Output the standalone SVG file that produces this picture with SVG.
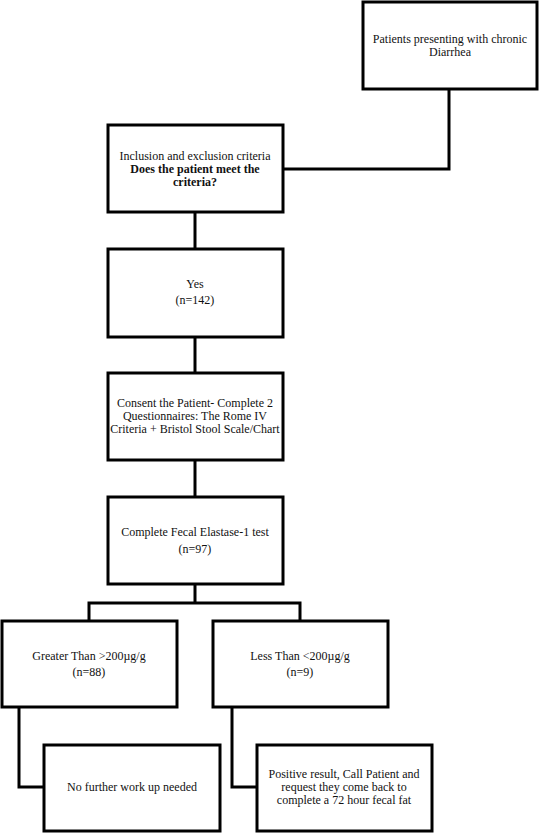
<svg xmlns="http://www.w3.org/2000/svg" width="539" height="835" viewBox="0 0 539 835">
<style>
rect.box{fill:#fff;stroke:#000;stroke-width:3}
.c path{fill:none;stroke:#000;stroke-width:3}
text{font-family:"Liberation Serif","Times New Roman",serif;font-size:12px;fill:#111;text-anchor:middle}
.b{font-weight:bold}
</style>
<rect width="539" height="835" fill="#fff"/>
<g class="c" id="connectors">
<path d="M449 89V169H283"/>
<path d="M195 212V249"/>
<path d="M195 337V373"/>
<path d="M195 460V497"/>
<path d="M195 584V603M89 621V603H300V621"/>
<path d="M19 707V787H44"/>
<path d="M232 707V787H257"/>
</g>
<g id="n1"><rect class="box" x="363" y="2" width="174" height="87"/>
<text x="450" y="43">Patients presenting with chronic</text><text x="450" y="56">Diarrhea</text></g>
<g id="n2"><rect class="box" x="108" y="125" width="175" height="87"/>
<text x="195" y="160">Inclusion and exclusion criteria</text><text class="b" x="195" y="173">Does the patient meet the</text><text class="b" x="195" y="186">criteria?</text></g>
<g id="n3"><rect class="box" x="108" y="249" width="175" height="88"/>
<text x="195" y="288">Yes</text><text x="195" y="304">(n=142)</text></g>
<g id="n4"><rect class="box" x="108" y="373" width="175" height="87"/>
<text x="195" y="407">Consent the Patient- Complete 2</text><text x="195" y="420">Questionnaires: The Rome IV</text><text x="195" y="433">Criteria + Bristol Stool Scale/Chart</text></g>
<g id="n5"><rect class="box" x="108" y="497" width="175" height="87"/>
<text x="195" y="536">Complete Fecal Elastase-1 test</text><text x="195" y="553">(n=97)</text></g>
<g id="n6"><rect class="box" x="2" y="621" width="175" height="86"/>
<text x="89" y="660">Greater Than &gt;200µg/g</text><text x="89" y="676">(n=88)</text></g>
<g id="n7"><rect class="box" x="213" y="621" width="175" height="86"/>
<text x="300" y="660">Less Than &lt;200µg/g</text><text x="300" y="676">(n=9)</text></g>
<g id="n8"><rect class="box" x="44" y="745" width="176" height="86"/>
<text x="132" y="791">No further work up needed</text></g>
<g id="n9"><rect class="box" x="257" y="745" width="175" height="86"/>
<text x="344" y="778">Positive result, Call Patient and</text><text x="344" y="791">request they come back to</text><text x="344" y="804">complete a 72 hour fecal fat</text></g>
</svg>
